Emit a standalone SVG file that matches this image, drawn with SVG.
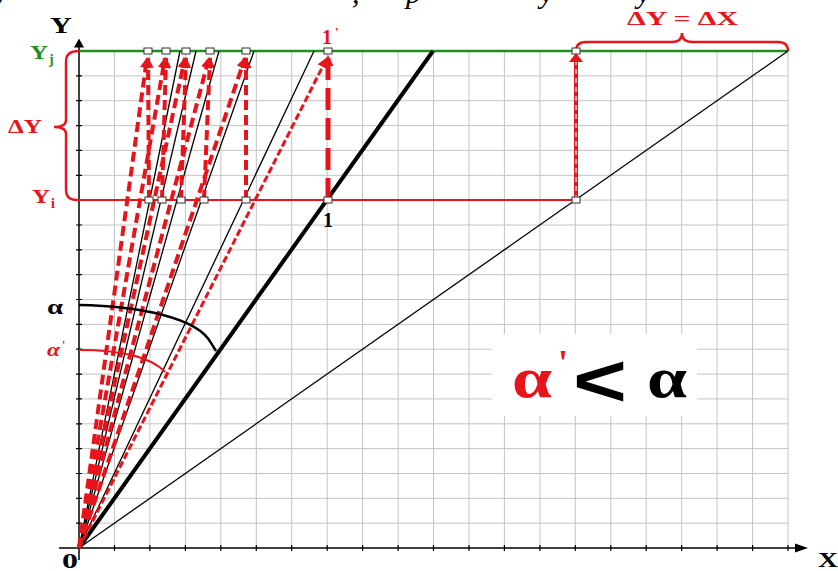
<svg xmlns="http://www.w3.org/2000/svg" width="838" height="571" viewBox="0 0 838 571">
<style>
.grid{stroke:#c4c4c4;stroke-width:1;fill:none}
.tick{stroke:#000;stroke-width:1.2;fill:none}
.axis{stroke:#000;stroke-width:1.5;fill:none}
.thin{stroke:#000;stroke-width:1.3;fill:none}
.thick{stroke:#000;stroke-width:4;fill:none}
.rd{stroke:#e8141c;stroke-width:4;stroke-dasharray:10 5;fill:none;marker-end:url(#ra)}
.rd2{stroke:#e8141c;stroke-width:3;stroke-dasharray:7 3;fill:none;marker-end:url(#ra)}
.rv{stroke:#e8141c;stroke-width:5;stroke-dasharray:22 8;fill:none;marker-end:url(#ra)}
.pt{fill:#fff;stroke:#333;stroke-width:1}
.lb{font-family:"Liberation Serif","Times New Roman",serif;font-weight:bold}
.red{fill:#e8141c}
.grn{fill:#1f8f1f}
.blk{fill:#000}
</style>
<defs>
<marker id="ra" viewBox="0 0 10 10" refX="9" refY="5" markerWidth="11" markerHeight="11" markerUnits="userSpaceOnUse" orient="auto">
<path d="M0,0 L10,5 L0,10 z" fill="#e8141c"/>
</marker>
<marker id="ka" viewBox="0 0 10 10" refX="9" refY="5" markerWidth="11" markerHeight="10" markerUnits="userSpaceOnUse" orient="auto">
<path d="M0,0 L10,5 L0,10 z" fill="#000"/>
</marker>
</defs>
<rect width="838" height="571" fill="#fff"/>
<!-- cut-off text at top -->
<text class="lb" font-style="italic" font-weight="normal" font-size="30" y="3" fill="#000" style="font-weight:normal"><tspan x="-6">y</tspan><tspan x="352">,</tspan><tspan x="406">p</tspan><tspan x="540">y</tspan><tspan x="637">y</tspan></text>
<g id="grid">
<path class="grid" d="M114.5,51V548M149.9,51V548M185.4,51V548M220.8,51V548M256.3,51V548M291.7,51V548M327.2,51V548M362.6,51V548M398.1,51V548M433.5,51V548M469,51V548M504.4,51V548M539.9,51V548M575.3,51V548M610.8,51V548M646.2,51V548M681.7,51V548M717.1,51V548M752.6,51V548M788,51V548"/>
<path class="grid" d="M79,523.2H788M79,498.3H788M79,473.5H788M79,448.6H788M79,423.8H788M79,398.9H788M79,374.1H788M79,349.2H788M79,324.4H788M79,299.5H788M79,274.7H788M79,249.8H788M79,225H788M79,200.1H788M79,175.3H788M79,150.4H788M79,125.6H788M79,100.7H788M79,75.9H788"/>
</g>
<g id="axes">
<path class="tick" d="M114.5,545V551M149.9,545V551M185.4,545V551M220.8,545V551M256.3,545V551M291.7,545V551M327.2,545V551M362.6,545V551M398.1,545V551M433.5,545V551M469,545V551M504.4,545V551M539.9,545V551M575.3,545V551M610.8,545V551M646.2,545V551M681.7,545V551M717.1,545V551M752.6,545V551M788,545V551"/>
<path class="tick" d="M76,523.2H82M76,498.3H82M76,473.5H82M76,448.6H82M76,423.8H82M76,398.9H82M76,374.1H82M76,349.2H82M76,324.4H82M76,299.5H82M76,274.7H82M76,249.8H82M76,225H82M76,175.3H82M76,150.4H82M76,125.6H82M76,100.7H82M76,75.9H82"/>
<path class="axis" d="M59,548H798"/>
<path d="M808,548 L795,543.5 L795,552.5 z" fill="#000"/>
<path class="axis" d="M79,560V46"/>
<path d="M79,38.5 L74,47.5 L84,47.5 z" fill="#000"/>
</g>
<g id="level-lines">
<path d="M80,51H788" stroke="#1f8f1f" stroke-width="2.6" fill="none"/>
<path d="M76,200H576" stroke="#e8141c" stroke-width="2.2" fill="none"/>
<path d="M79,51 Q66,51 66,61 L66,120 Q66,127 54,127 Q66,127 66,134 L66,190 Q66,200 77,200" stroke="#e8141c" stroke-width="2.4" fill="none"/>
<path d="M576,51 Q576,42 586,42 L672,42 Q682,42 682,33 Q682,42 692,42 L778,42 Q788,42 788,51" stroke="#e8141c" stroke-width="2.4" fill="none"/>
</g>
<g id="connectors">
<path class="thin" d="M79,548L788,51"/>
<path class="thick" d="M79,548L433,51"/>
<path class="thin" d="M79,548L314,51"/>
<path class="thin" d="M79,548L254,51"/>
<path class="thin" d="M79,548L219,51"/>
<path class="thin" d="M79,548L196,51"/>
<path class="thin" d="M79,548L180,51"/>
<path class="rd2" d="M79,548L327,58"/>
<path class="rd" d="M79,548L245,58"/>
<path class="rd" d="M79,548L209,58"/>
<path class="rd" d="M79,548L185,58"/>
<path class="rd" d="M79,548L165,58"/>
<path class="rd" d="M79,548L147,58"/>
<path class="rv" d="M328,200V56"/>
<path class="rd" d="M246,200V58"/>
<path class="rd" d="M204,200L210,58"/>
<path class="rd" d="M181,200L186,58"/>
<path class="rd" d="M162,200L166,58"/>
<path class="rd" d="M149,200L148,58"/>
<path d="M576,200V60" stroke="#e8141c" stroke-width="4" fill="none"/>
<path d="M576,200V62" stroke="#fff" stroke-width="1.2" stroke-dasharray="5 4" fill="none"/>
<path d="M576,53 L569,62 L583,62 z" fill="#e8141c"/>
</g>
<g id="angles">
<path d="M79,305 C140,306 198,318 211,343 L216,351" stroke="#000" stroke-width="2.4" fill="none"/>
<path d="M79,350 C120,350 150,356 165,372" stroke="#e8141c" stroke-width="2.2" fill="none"/>
</g>
<g id="points">
<rect class="pt" x="144" y="48" width="8" height="6"/>
<rect class="pt" x="162" y="48" width="8" height="6"/>
<rect class="pt" x="182" y="48" width="8" height="6"/>
<rect class="pt" x="206" y="48" width="8" height="6"/>
<rect class="pt" x="242" y="48" width="8" height="6"/>
<rect class="pt" x="324" y="48" width="8" height="6"/>
<rect class="pt" x="572" y="48" width="8" height="6"/>
<rect class="pt" x="145" y="197" width="8" height="6"/>
<rect class="pt" x="158" y="197" width="8" height="6"/>
<rect class="pt" x="177" y="197" width="8" height="6"/>
<rect class="pt" x="200" y="197" width="8" height="6"/>
<rect class="pt" x="242" y="197" width="8" height="6"/>
<rect class="pt" x="324" y="197" width="8" height="6"/>
<rect class="pt" x="572" y="197" width="8" height="6"/>
</g>
<g id="labels">
<text class="lb blk" x="50" y="33" font-size="23" textLength="22" lengthAdjust="spacingAndGlyphs">Y</text>
<text class="lb grn" x="30" y="59" font-size="19" textLength="18" lengthAdjust="spacingAndGlyphs">Y</text>
<text class="lb grn" x="49" y="64" font-size="14">j</text>
<text class="lb red" x="32" y="203" font-size="19" textLength="18" lengthAdjust="spacingAndGlyphs">Y</text>
<text class="lb red" x="51" y="208" font-size="14">i</text>
<text class="lb red" x="8" y="133" font-size="18" textLength="34" lengthAdjust="spacingAndGlyphs">ΔY</text>
<text class="lb red" x="627" y="25" font-size="19" textLength="111" lengthAdjust="spacingAndGlyphs">ΔY = ΔX</text>
<text class="lb blk" x="323" y="227" font-size="20">1</text>
<text class="lb red" x="322" y="44" font-size="20">1</text>
<text class="lb red" x="335" y="36" font-size="13">'</text>
<text class="lb blk" x="62" y="568" font-size="22" textLength="16" lengthAdjust="spacingAndGlyphs">0</text>
<text class="lb blk" x="818" y="567" font-size="22" textLength="20" lengthAdjust="spacingAndGlyphs">X</text>
<text class="lb blk" x="47" y="314" font-size="22" textLength="16" lengthAdjust="spacingAndGlyphs">α</text>
<text class="lb red" x="47" y="356" font-size="18" font-style="italic" textLength="13" lengthAdjust="spacingAndGlyphs">α</text>
<text class="lb red" x="62" y="349" font-size="12">'</text>
</g>
<g id="relation">
<rect x="492" y="334" width="205" height="82" fill="#fff"/>
<text class="lb red" x="512" y="397" font-size="58" textLength="40" lengthAdjust="spacingAndGlyphs">α</text>
<text class="lb red" x="558" y="375" font-size="36">'</text>
<text font-family="Liberation Sans, Arial, sans-serif" font-weight="bold" class="blk" x="573" y="406" font-size="74" textLength="54" lengthAdjust="spacingAndGlyphs">&lt;</text>
<text class="lb blk" x="647" y="397" font-size="58" textLength="40" lengthAdjust="spacingAndGlyphs">α</text>
</g>
</svg>
